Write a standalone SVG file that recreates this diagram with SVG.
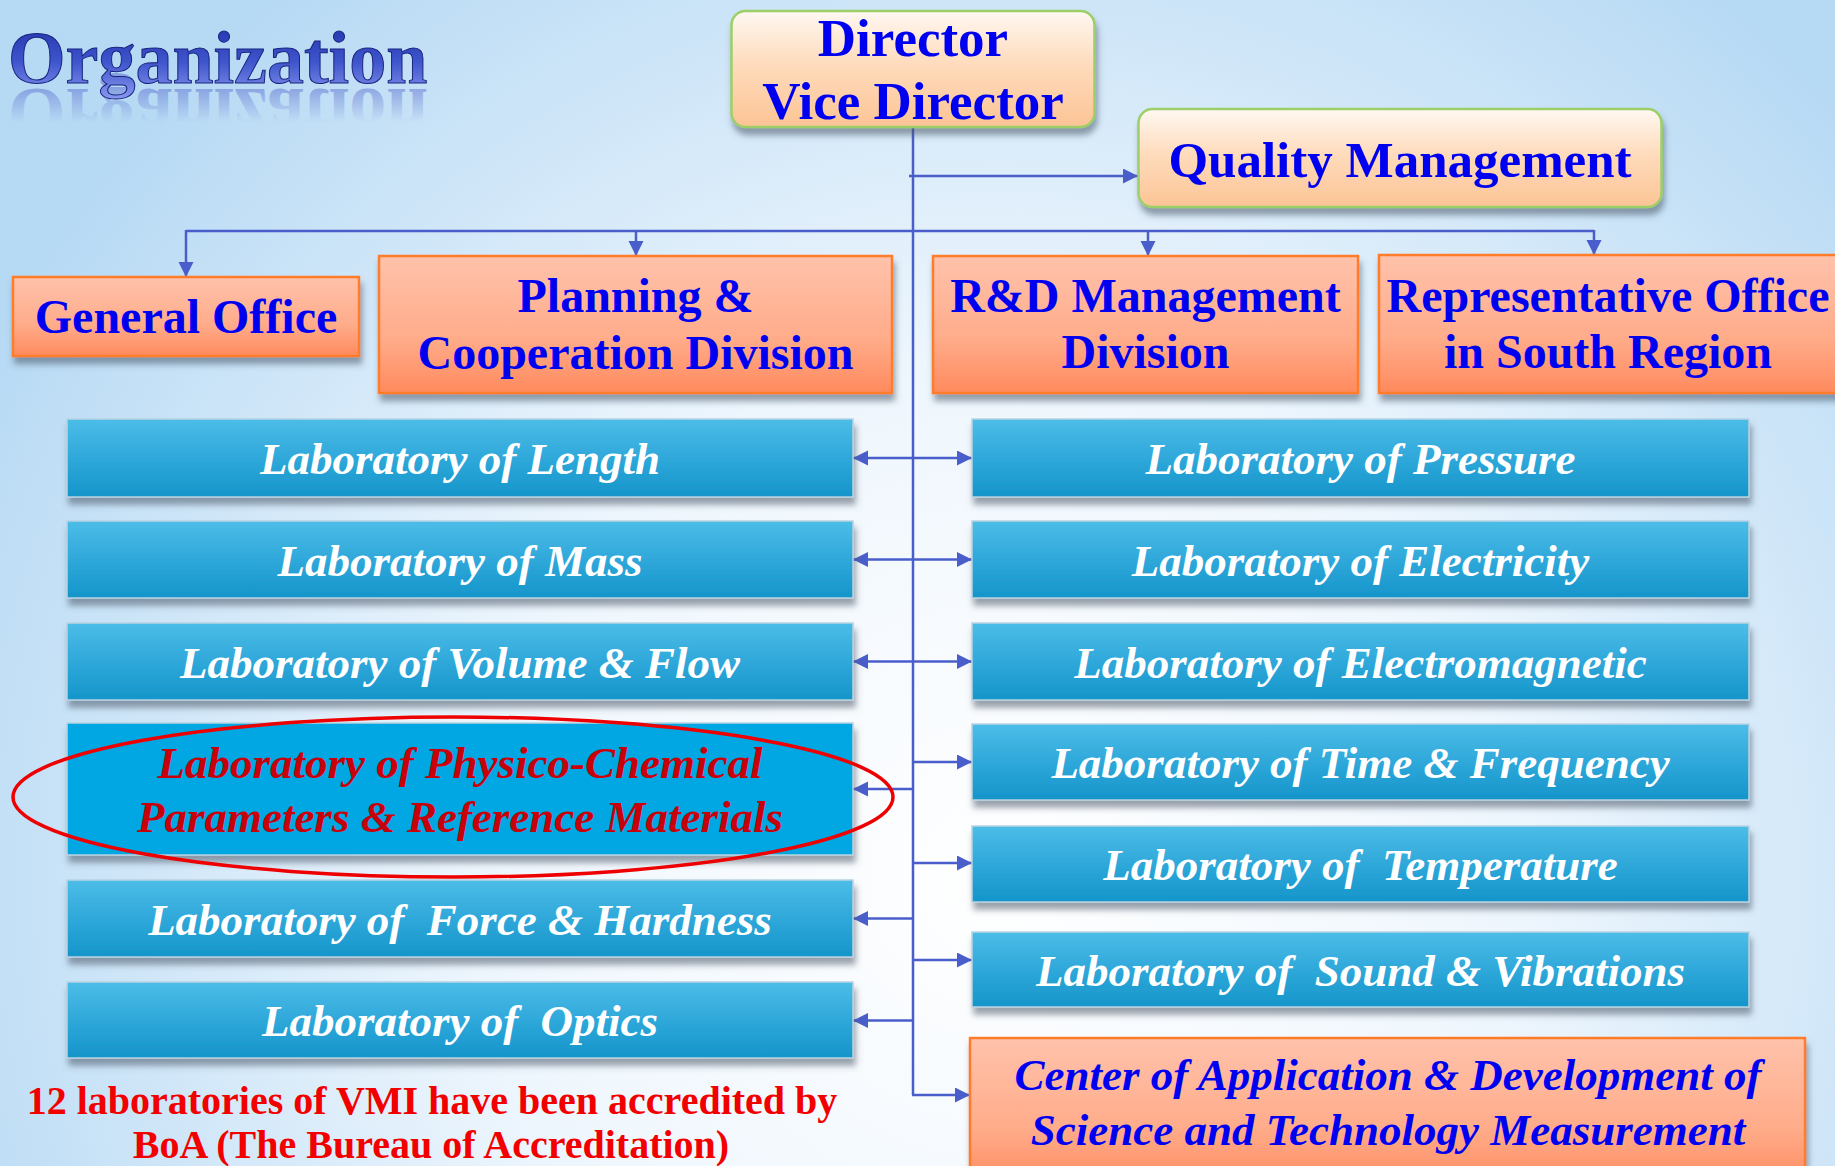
<svg xmlns="http://www.w3.org/2000/svg" width="1835" height="1166" viewBox="0 0 1835 1166">
<defs>
<radialGradient id="bg" gradientUnits="userSpaceOnUse" cx="1000" cy="880" r="1150">
<stop offset="0" stop-color="#ffffff"/>
<stop offset="0.45" stop-color="#eef6fd"/>
<stop offset="1" stop-color="#b6d9f4"/>
</radialGradient>
<linearGradient id="titleFill" x1="0" y1="0" x2="0" y2="1">
<stop offset="0" stop-color="#1e2fa8"/>
<stop offset="0.55" stop-color="#3f55cc"/>
<stop offset="1" stop-color="#8898ee"/>
</linearGradient>
<linearGradient id="reflFill" gradientUnits="userSpaceOnUse" x1="0" y1="85" x2="0" y2="50">
<stop offset="0" stop-color="#4a5cc8" stop-opacity="0.45"/>
<stop offset="1" stop-color="#4a5cc8" stop-opacity="0"/>
</linearGradient>
<linearGradient id="peach" x1="0" y1="0" x2="0" y2="1">
<stop offset="0" stop-color="#fff8f2"/>
<stop offset="0.45" stop-color="#fedcbd"/>
<stop offset="1" stop-color="#fcc495"/>
</linearGradient>
<linearGradient id="orange" x1="0" y1="0" x2="0" y2="1">
<stop offset="0" stop-color="#ffc2ab"/>
<stop offset="0.6" stop-color="#ffac8a"/>
<stop offset="1" stop-color="#ff8a5e"/>
</linearGradient>
<linearGradient id="lab" x1="0" y1="0" x2="0" y2="1">
<stop offset="0" stop-color="#4cbde8"/>
<stop offset="0.5" stop-color="#2fa8da"/>
<stop offset="1" stop-color="#1595ca"/>
</linearGradient>
<filter id="shadow" x="-5%" y="-10%" width="110%" height="140%">
<feDropShadow dx="2" dy="7" stdDeviation="3" flood-color="#4a5566" flood-opacity="0.55"/>
</filter>
<marker id="ah" markerUnits="userSpaceOnUse" markerWidth="16" markerHeight="16" refX="15" refY="7.5" orient="auto-start-reverse" viewBox="0 0 16 16">
<path d="M0,0 L15,7.5 L0,15 z" fill="#4a5ecb"/>
</marker>
<text id="titleText" x="8" y="83" font-family="Liberation Serif, Times New Roman, serif" font-weight="bold" font-size="74">Organization</text>
<style>
.bg{fill:url(#bg)}
.conn{stroke:#4a5ecb;stroke-width:2.5;fill:none}
.arr{marker-end:url(#ah)}
.dbl{marker-start:url(#ah);marker-end:url(#ah)}
.top{fill:url(#peach);stroke:#9ccf68;stroke-width:2.5;filter:url(#shadow)}
.div{fill:url(#orange);stroke:#ff7d2c;stroke-width:2.5;filter:url(#shadow)}
.lab{fill:url(#lab);stroke:#b9d3e2;stroke-width:1.5;filter:url(#shadow)}
.labhi{fill:#00a7e2;stroke:#b9d3e2;stroke-width:1.5;filter:url(#shadow)}
.tb{font-family:"Liberation Serif","Times New Roman",serif;font-weight:bold;fill:#0000f0;text-anchor:middle}
.tl{font-family:"Liberation Serif","Times New Roman",serif;font-weight:bold;font-style:italic;font-size:45px;fill:#ffffff;text-anchor:middle;white-space:pre}
.tred{font-family:"Liberation Serif","Times New Roman",serif;font-weight:bold;font-style:italic;font-size:45px;fill:#c8000a;text-anchor:middle}
.tcen{font-family:"Liberation Serif","Times New Roman",serif;font-weight:bold;font-style:italic;font-size:45px;fill:#0000f0;text-anchor:middle}
.note{font-family:"Liberation Serif","Times New Roman",serif;font-weight:bold;font-size:40px;fill:#f20000;text-anchor:middle}
</style>
</defs>

<rect class="bg" x="0" y="0" width="1835" height="1166"/>

<g id="title">
<use href="#titleText" fill="url(#reflFill)" transform="translate(0,172) scale(1,-1)"/>
<use href="#titleText" fill="url(#titleFill)" stroke="#1a2480" stroke-width="1"/>
</g>

<g id="connectors">
<line class="conn" x1="913" y1="127" x2="913" y2="1095"/>
<line class="conn arr" x1="909" y1="176" x2="1138" y2="176"/>
<line class="conn" x1="186" y1="231" x2="1594" y2="231"/>
<line class="conn arr" x1="186" y1="230" x2="186" y2="277"/>
<line class="conn arr" x1="636" y1="230" x2="636" y2="256"/>
<line class="conn arr" x1="1148" y1="230" x2="1148" y2="256"/>
<line class="conn arr" x1="1594" y1="230" x2="1594" y2="255"/>
<line class="conn dbl" x1="853" y1="458" x2="972" y2="458"/>
<line class="conn dbl" x1="853" y1="559.5" x2="972" y2="559.5"/>
<line class="conn dbl" x1="853" y1="661.5" x2="972" y2="661.5"/>
<line class="conn arr" x1="913" y1="762" x2="972" y2="762"/>
<line class="conn arr" x1="913" y1="789" x2="853" y2="789"/>
<line class="conn arr" x1="913" y1="863" x2="972" y2="863"/>
<line class="conn arr" x1="913" y1="918.5" x2="853" y2="918.5"/>
<line class="conn arr" x1="913" y1="960" x2="972" y2="960"/>
<line class="conn arr" x1="913" y1="1020.5" x2="853" y2="1020.5"/>
<line class="conn arr" x1="912" y1="1095" x2="970" y2="1095"/>
</g>

<g id="director">
<rect class="top" x="731.5" y="11" width="363" height="116" rx="14"/>
<text class="tb" x="913" y="56" font-size="53">Director</text>
<text class="tb" x="913" y="119" font-size="53">Vice Director</text>
</g>

<g id="quality">
<rect class="top" x="1138.5" y="109" width="523" height="98" rx="14"/>
<text class="tb" x="1400" y="177" font-size="51">Quality Management</text>
</g>

<g id="general-office">
<rect class="div" x="13" y="277" width="346" height="79"/>
<text class="tb" x="186" y="333" font-size="48">General Office</text>
</g>

<g id="planning">
<rect class="div" x="379" y="256" width="513" height="137"/>
<text class="tb" x="635.5" y="312" font-size="48">Planning &amp;</text>
<text class="tb" x="635.5" y="369" font-size="48">Cooperation Division</text>
</g>

<g id="rnd">
<rect class="div" x="933" y="256" width="425" height="137"/>
<text class="tb" x="1145.5" y="312" font-size="48">R&amp;D Management</text>
<text class="tb" x="1145.5" y="368" font-size="48">Division</text>
</g>

<g id="representative">
<rect class="div" x="1379" y="255" width="470" height="138"/>
<text class="tb" x="1608" y="312" font-size="48">Representative Office</text>
<text class="tb" x="1608" y="368" font-size="48">in South Region</text>
</g>

<g id="lab-length">
<rect class="lab" x="67" y="419" width="786" height="78"/>
<text class="tl" x="460" y="474">Laboratory of Length</text>
</g>
<g id="lab-mass">
<rect class="lab" x="67" y="521" width="786" height="77"/>
<text class="tl" x="460" y="576">Laboratory of Mass</text>
</g>
<g id="lab-volume">
<rect class="lab" x="67" y="623" width="786" height="77"/>
<text class="tl" x="460" y="678">Laboratory of Volume &amp; Flow</text>
</g>
<g id="lab-physico">
<rect class="labhi" x="67" y="723" width="786" height="132"/>
<text class="tred" x="460" y="778">Laboratory of Physico-Chemical</text>
<text class="tred" x="460" y="832">Parameters &amp; Reference Materials</text>
<ellipse cx="453" cy="797" rx="440" ry="80" fill="none" stroke="#ee0000" stroke-width="3.5"/>
</g>
<g id="lab-force">
<rect class="lab" x="67" y="880" width="786" height="77"/>
<text class="tl" x="460" y="935" xml:space="preserve">Laboratory of  Force &amp; Hardness</text>
</g>
<g id="lab-optics">
<rect class="lab" x="67" y="982" width="786" height="76"/>
<text class="tl" x="460" y="1036" xml:space="preserve">Laboratory of  Optics</text>
</g>

<g id="lab-pressure">
<rect class="lab" x="972" y="419" width="777" height="78"/>
<text class="tl" x="1360.5" y="474">Laboratory of Pressure</text>
</g>
<g id="lab-electricity">
<rect class="lab" x="972" y="521" width="777" height="77"/>
<text class="tl" x="1360.5" y="576">Laboratory of Electricity</text>
</g>
<g id="lab-electromagnetic">
<rect class="lab" x="972" y="623" width="777" height="77"/>
<text class="tl" x="1360.5" y="678">Laboratory of Electromagnetic</text>
</g>
<g id="lab-time">
<rect class="lab" x="972" y="724" width="777" height="76"/>
<text class="tl" x="1360.5" y="778">Laboratory of Time &amp; Frequency</text>
</g>
<g id="lab-temperature">
<rect class="lab" x="972" y="826" width="777" height="76"/>
<text class="tl" x="1360.5" y="880" xml:space="preserve">Laboratory of  Temperature</text>
</g>
<g id="lab-sound">
<rect class="lab" x="972" y="932" width="777" height="75"/>
<text class="tl" x="1360.5" y="986" xml:space="preserve">Laboratory of  Sound &amp; Vibrations</text>
</g>

<g id="center">
<rect class="div" x="970" y="1038" width="835" height="150"/>
<text class="tcen" x="1388" y="1090">Center of Application &amp; Development of</text>
<text class="tcen" x="1388" y="1145">Science and Technology Measurement</text>
</g>

<g id="note">
<text class="note" x="432" y="1114">12 laboratories of VMI have been accredited by</text>
<text class="note" x="431" y="1158">BoA (The Bureau of Accreditation)</text>
</g>
</svg>
